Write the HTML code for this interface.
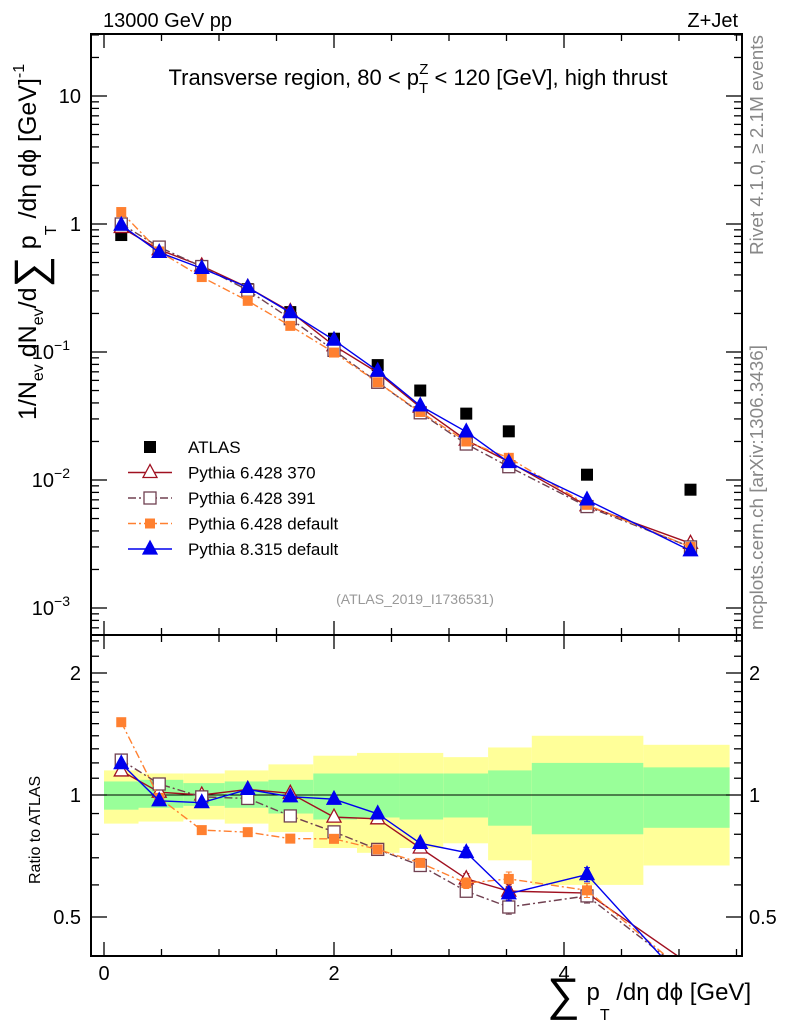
<!DOCTYPE html>
<html><head><meta charset="utf-8">
<style>
body{margin:0;background:#fff;}
svg{display:block;font-family:"Liberation Sans",sans-serif;}
</style></head>
<body>
<svg id="plot" width="786" height="1024" viewBox="0 0 786 1024" xmlns="http://www.w3.org/2000/svg">
<rect width="786" height="1024" fill="#fff"/>
<g id="bands"></g>
<g id="marks"></g>
<g id="axes"></g>
<text x="103" y="27" font-size="20">13000 GeV pp</text>
<text x="738" y="27" font-size="20" text-anchor="end">Z+Jet</text>
<text x="418" y="85" font-size="22" text-anchor="middle">Transverse region, 80 &lt; p<tspan font-size="15" dy="8">T</tspan><tspan font-size="15" dx="-9" dy="-19">Z</tspan><tspan dy="11"> &lt; 120 [GeV], high thrust</tspan></text>
<text x="415" y="604" font-size="14" fill="#999" text-anchor="middle">(ATLAS_2019_I1736531)</text>
<text transform="translate(763,255) rotate(-90)" font-size="18" fill="#888" textLength="220" lengthAdjust="spacingAndGlyphs">Rivet 4.1.0, ≥ 2.1M events</text>
<text transform="translate(763,630) rotate(-90)" font-size="18" fill="#888" textLength="285" lengthAdjust="spacingAndGlyphs">mcplots.cern.ch [arXiv:1306.3436]</text>
<text transform="translate(36,420) rotate(-90)" font-size="25">1/N<tspan font-size="16" dy="7">ev</tspan><tspan dy="-7"> dN</tspan><tspan font-size="16" dy="7">ev</tspan><tspan dy="-7">/d</tspan><tspan font-size="44" dy="9">∑</tspan><tspan dy="-9"> p</tspan><tspan font-size="16" dy="20">T</tspan><tspan dy="-20"> /dη dϕ  [GeV]</tspan><tspan font-size="16" dy="-12">-1</tspan></text>
<text transform="translate(40,884) rotate(-90)" font-size="16">Ratio to ATLAS</text>
<text x="547" y="1000" font-size="24"><tspan font-size="46" dy="10">∑</tspan><tspan dy="-10"> p</tspan><tspan font-size="16" dy="20">T</tspan><tspan dy="-20"> /dη dϕ [GeV]</tspan></text>
<g id="legend"></g>
</svg>
<script>
const binEdges=[0,0.3,0.69,1.05,1.43,1.82,2.2,2.57,2.95,3.34,3.72,4.69,5.44];
const binCenters=[0.15,0.48,0.85,1.25,1.62,2.0,2.38,2.75,3.15,3.52,4.2,5.1];
const atlas=[0.82,0.62,0.47,0.31,0.205,0.127,0.079,0.050,0.033,0.024,0.011,0.0084];
const bandYellowHi=[1.15,1.13,1.13,1.15,1.19,1.25,1.27,1.27,1.24,1.31,1.40,1.33];
const bandYellowLo=[0.85,0.86,0.87,0.85,0.81,0.74,0.72,0.74,0.76,0.69,0.60,0.67];
const bandGreenHi=[1.08,1.09,1.07,1.08,1.09,1.13,1.13,1.13,1.13,1.15,1.20,1.17];
const bandGreenLo=[0.92,0.93,0.94,0.93,0.90,0.87,0.88,0.87,0.88,0.84,0.80,0.83];
const py370=[0.94,0.63,0.47,0.32,0.207,0.112,0.069,0.037,0.0205,0.0139,0.0063,0.0032];
const py391=[1.00,0.66,0.465,0.304,0.182,0.103,0.058,0.0335,0.0191,0.0127,0.0062,0.0030];
const py6def=[1.24,0.61,0.385,0.251,0.160,0.099,0.058,0.034,0.020,0.0149,0.0064,0.0030];
const py8def=[0.98,0.60,0.45,0.32,0.203,0.124,0.071,0.038,0.0238,0.0137,0.0070,0.0028];
const relErr=[0.005,0.005,0.005,0.005,0.008,0.01,0.012,0.02,0.03,0.04,0.04,0.05];
const xTickLabels=[0,2,4];
const ratioTickLabels=[0.5,1,2];

const NS='http://www.w3.org/2000/svg';
const L=91,R=742,T=34,MB=635,RB=956;
const X=v=>104+115*v;
const Y=v=>224-128*Math.log10(v);
const YR=v=>795-122*Math.log2(v);
function mk(tag,attrs,parent){const e=document.createElementNS(NS,tag);for(const k in attrs)e.setAttribute(k,attrs[k]);parent.appendChild(e);return e;}
const gA=document.getElementById('axes'),gM=document.getElementById('marks'),gB=document.getElementById('bands'),gL=document.getElementById('legend');

for(let i=0;i<binCenters.length;i++){
  const x0=X(binEdges[i]),x1=X(binEdges[i+1]);
  const y=mk('rect',{x:x0,y:YR(bandYellowHi[i]),width:x1-x0,height:YR(bandYellowLo[i])-YR(bandYellowHi[i]),fill:'#ffff99'},gB);
  
  
  const g=mk('rect',{x:x0,y:YR(bandGreenHi[i]),width:x1-x0,height:YR(bandGreenLo[i])-YR(bandGreenHi[i]),fill:'#99ff99'},gB);
  
  
}
mk('line',{x1:L,x2:R,y1:YR(1),y2:YR(1),stroke:'#000','stroke-width':1},gB);

const defs=mk('defs',{},document.getElementById('plot'));
const c1=mk('clipPath',{id:'cm'},defs);mk('rect',{x:L,y:T,width:R-L,height:MB-T},c1);
const c2=mk('clipPath',{id:'cr'},defs);mk('rect',{x:L,y:MB,width:R-L,height:RB-MB},c2);

const series=[
 {name:'pythia-6428-370',label:'Pythia 6.428 370',vals:py370,color:'#a01020',dash:'',marker:'tri-open'},
 {name:'pythia-6428-391',label:'Pythia 6.428 391',vals:py391,color:'#704050',dash:'8,3,2,3',marker:'sq-open'},
 {name:'pythia-6428-default',label:'Pythia 6.428 default',vals:py6def,color:'#ff8030',dash:'8,3,2,3',marker:'sq-fill'},
 {name:'pythia-8315-default',label:'Pythia 8.315 default',vals:py8def,color:'#0000ee',dash:'',marker:'tri-fill'}
];
function marker(type,x,y,color,parent,nm){
  let e;
  if(type==='tri-open'||type==='tri-fill'){
    e=mk('polygon',{points:`${x},${y-8} ${x-7},${y+5} ${x+7},${y+5}`,fill:type==='tri-fill'?color:'#fff',stroke:color,'stroke-width':1.3},parent);
  }else if(type==='sq-open'){
    e=mk('rect',{x:x-6,y:y-6,width:12,height:12,fill:'#fff',stroke:color,'stroke-width':1.3},parent);
  }else if(type==='sq-fill'){
    e=mk('rect',{x:x-5,y:y-5,width:10,height:10,fill:color},parent);
  }else{
    e=mk('rect',{x:x-6,y:y-6,width:12,height:12,fill:color},parent);
  }
  
  
  return e;
}
atlas.forEach((v,i)=>{marker('data',X(binCenters[i]),Y(v),'#000',gM,'atlas-point');});
series.forEach(s=>{
  const gm=mk('g',{'clip-path':'url(#cm)'},gM);
  
  
  const pts=s.vals.map((v,i)=>X(binCenters[i])+','+Y(v)).join(' ');
  mk('polyline',{points:pts,fill:'none',stroke:s.color,'stroke-width':1.4,'stroke-dasharray':s.dash},gm);
  s.vals.forEach((v,i)=>marker(s.marker,X(binCenters[i]),Y(v),s.color,gm,s.name+'-point'));
  const gr=mk('g',{'clip-path':'url(#cr)'},gM);
  
  
  const rp=s.vals.map((v,i)=>X(binCenters[i])+','+YR(v/atlas[i])).join(' ');
  mk('polyline',{points:rp,fill:'none',stroke:s.color,'stroke-width':1.4,'stroke-dasharray':s.dash},gr);
  s.vals.forEach((v,i)=>{
    const r=v/atlas[i],x=X(binCenters[i]);
    if(i>=6){mk('line',{x1:x,x2:x,y1:YR(r*(1+relErr[i])),y2:YR(r*(1-relErr[i])),stroke:s.color,'stroke-width':1.3},gr);
      mk('line',{x1:x-3,x2:x+3,y1:YR(r*(1+relErr[i])),y2:YR(r*(1+relErr[i])),stroke:s.color},gr);
      mk('line',{x1:x-3,x2:x+3,y1:YR(r*(1-relErr[i])),y2:YR(r*(1-relErr[i])),stroke:s.color},gr);}
    marker(s.marker,x,YR(r),s.color,gr,s.name+'-ratio-point');
  });
});

mk('rect',{x:L,y:T,width:R-L,height:MB-T,fill:'none',stroke:'#000','stroke-width':2},gA);
mk('rect',{x:L,y:MB,width:R-L,height:RB-MB,fill:'none',stroke:'#000','stroke-width':2},gA);
for(let v=0;v<=5.5;v+=0.5){
  const x=X(v),maj=Math.abs(v%2)<1e-6,len=maj?14:7;
  [T,MB].forEach(y=>mk('line',{x1:x,x2:x,y1:y,y2:y+len,stroke:'#000','stroke-width':1.3},gA));
  [MB,RB].forEach(y=>mk('line',{x1:x,x2:x,y1:y,y2:y-len,stroke:'#000','stroke-width':1.3},gA));
}
xTickLabels.forEach(v=>{const t=mk('text',{x:X(v),y:980,'font-size':20,'text-anchor':'middle'},gA);t.textContent=v;
  
  });
for(let e=-4;e<=1;e++){for(let m=1;m<10;m++){const v=m*Math.pow(10,e),y=Y(v);if(y<T||y>MB)continue;const len=m===1?16:8;
  mk('line',{x1:L,x2:L+len,y1:y,y2:y,stroke:'#000','stroke-width':1.3},gA);mk('line',{x1:R,x2:R-len,y1:y,y2:y,stroke:'#000','stroke-width':1.3},gA);}}
const mainLabels=[[10,'10',''],[1,'1',''],[0.1,'10','−1'],[0.01,'10','−2'],[0.001,'10','−3']];
mainLabels.forEach(([v,b,s])=>{const t=mk('text',{x:s?70:81,y:Y(v)+7,'font-size':20,'text-anchor':'end'},gA);
  
  
  t.textContent=b;if(s){const ts=mk('tspan',{'font-size':14,dy:-9},t);ts.textContent=s;}});
const rt=[0.4,0.5,0.6,0.7,0.8,0.9,1,1.1,1.2,1.3,1.4,1.5,1.6,1.7,1.8,1.9,2,2.2,2.4];
rt.forEach(v=>{const y=YR(v);if(y<MB||y>RB)return;const len=(v===0.5||v===1||v===2)?16:8;
  mk('line',{x1:L,x2:L+len,y1:y,y2:y,stroke:'#000','stroke-width':1.3},gA);mk('line',{x1:R,x2:R-len,y1:y,y2:y,stroke:'#000','stroke-width':1.3},gA);});
ratioTickLabels.forEach(v=>{
  const a=mk('text',{x:81,y:YR(v)+7,'font-size':20,'text-anchor':'end'},gA);a.textContent=v;
  
  
  const b=mk('text',{x:749,y:YR(v)+7,'font-size':20},gA);b.textContent=v;
  
  
});
const legRows=[{label:'ATLAS',marker:'data',color:'#000',dash:null,name:'legend-atlas'}].concat(series.map(s=>({label:s.label,marker:s.marker,color:s.color,dash:s.dash,name:'legend-'+s.name})));
legRows.forEach((r,i)=>{
  const y=447+i*25.5;
  const g=mk('g',{},gL);
  
  
  if(r.dash!==null)mk('line',{x1:128,x2:172,y1:y,y2:y,stroke:r.color,'stroke-width':1.4,'stroke-dasharray':r.dash},g);
  marker(r.marker,150,y,r.color,g,'legend-marker');
  const t=mk('text',{x:188,y:y+6,'font-size':17},g);t.textContent=r.label;
});
</script>
</body></html>
